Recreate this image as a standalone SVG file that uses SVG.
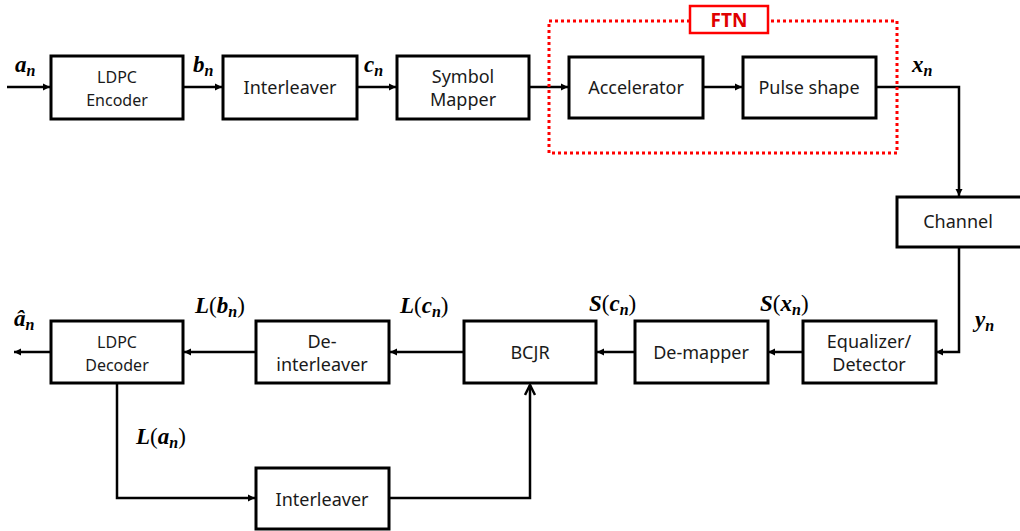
<svg xmlns="http://www.w3.org/2000/svg" width="1020" height="531" viewBox="0 0 1020 531">
<style>
.box{fill:#fff;stroke:#000;stroke-width:3}
.t{font-family:"Noto Sans","Liberation Sans",sans-serif;font-size:18px;fill:#1a1a1a;text-anchor:middle}
.t.s{font-size:16px}
.m{font-family:"Liberation Serif",serif;font-weight:bold;font-style:italic;font-size:23px;fill:#000}
.sub{font-size:16px}
.p{font-weight:normal;font-style:normal}
.ln{fill:none;stroke:#000;stroke-width:2.5}
</style>
<defs>
<marker id="ah" markerWidth="8" markerHeight="8" refX="7" refY="4" orient="auto" markerUnits="userSpaceOnUse">
<path d="M0,0.5 L7,4 L0,7.5 Z" fill="#000"/>
</marker>
<marker id="open" markerWidth="14" markerHeight="12" refX="12" refY="6" orient="auto" markerUnits="userSpaceOnUse">
<path d="M2,1 L12,6 L2,11" fill="none" stroke="#000" stroke-width="2.5"/>
</marker>
</defs>
<rect width="1020" height="531" fill="#fff"/>

<g id="connectors">
<line class="ln" x1="7" y1="87" x2="50" y2="87" marker-end="url(#ah)"/>
<line class="ln" x1="183" y1="87" x2="222" y2="87" marker-end="url(#ah)"/>
<line class="ln" x1="357" y1="87" x2="396" y2="87" marker-end="url(#ah)"/>
<line class="ln" x1="529" y1="87" x2="568" y2="87" marker-end="url(#ah)"/>
<line class="ln" x1="703" y1="87" x2="742" y2="87" marker-end="url(#ah)"/>
<polyline class="ln" points="876,87 959,87 959,196" marker-end="url(#ah)"/>
<polyline class="ln" points="959,247 959,352 936,352" marker-end="url(#ah)"/>
<line class="ln" x1="803" y1="352" x2="768" y2="352" marker-end="url(#ah)"/>
<line class="ln" x1="635" y1="352" x2="597" y2="352" marker-end="url(#ah)"/>
<line class="ln" x1="463" y1="352" x2="390" y2="352" marker-end="url(#ah)"/>
<line class="ln" x1="256" y1="352" x2="184" y2="352" marker-end="url(#ah)"/>
<line class="ln" x1="51" y1="352" x2="14" y2="352" marker-end="url(#ah)"/>
<polyline class="ln" points="117,383 117,498 255,498" marker-end="url(#ah)"/>
<polyline class="ln" points="389,498 530,498 530,385" marker-end="url(#open)"/>
</g>

<g id="ftn">
<rect x="549" y="21" width="348" height="132" fill="none" stroke="#ff0000" stroke-width="3" stroke-dasharray="3 3"/>
<rect x="690" y="6" width="78" height="27" fill="#fff" stroke="#ff0000" stroke-width="2.5"/>
<text x="729" y="27" font-family="Noto Sans,Liberation Sans,sans-serif" font-weight="bold" font-size="19" fill="#e00000" text-anchor="middle">FTN</text>
</g>

<g id="ldpc-encoder"><rect class="box" x="51" y="56" width="132" height="63"/><text class="t s" x="117" y="83">LDPC</text><text class="t s" x="117" y="106">Encoder</text></g>
<g id="interleaver1"><rect class="box" x="223" y="56" width="134" height="63"/><text class="t" x="290" y="94">Interleaver</text></g>
<g id="symbol-mapper"><rect class="box" x="397" y="56" width="132" height="63"/><text class="t" x="463" y="83">Symbol</text><text class="t" x="463" y="106">Mapper</text></g>
<g id="accelerator"><rect class="box" x="569" y="57" width="134" height="61"/><text class="t" x="636" y="94">Accelerator</text></g>
<g id="pulse-shape"><rect class="box" x="743" y="57" width="133" height="61"/><text class="t" x="809" y="94">Pulse shape</text></g>
<g id="channel"><rect class="box" x="897" y="197" width="125" height="50"/><text class="t" x="958" y="228">Channel</text></g>
<g id="equalizer"><rect class="box" x="803" y="321" width="133" height="62"/><text class="t" x="869" y="348">Equalizer/</text><text class="t" x="869" y="371">Detector</text></g>
<g id="demapper"><rect class="box" x="635" y="321" width="133" height="62"/><text class="t" x="701" y="359">De-mapper</text></g>
<g id="bcjr"><rect class="box" x="464" y="321" width="132" height="62"/><text class="t" x="530" y="359">BCJR</text></g>
<g id="deinterleaver"><rect class="box" x="256" y="321" width="133" height="62"/><text class="t" x="322" y="348">De-</text><text class="t" x="322" y="371">interleaver</text></g>
<g id="ldpc-decoder"><rect class="box" x="51" y="321" width="132" height="62"/><text class="t s" x="117" y="348">LDPC</text><text class="t s" x="117" y="371">Decoder</text></g>
<g id="interleaver2"><rect class="box" x="256" y="468" width="133" height="61"/><text class="t" x="322" y="506">Interleaver</text></g>

<g id="labels">
<text class="m" x="15" y="72">a<tspan class="sub" dy="4">n</tspan></text>
<text class="m" x="193" y="72">b<tspan class="sub" dy="4">n</tspan></text>
<text class="m" x="364" y="72">c<tspan class="sub" dy="4">n</tspan></text>
<text class="m" x="912" y="72">x<tspan class="sub" dy="4">n</tspan></text>
<text class="m" x="975" y="327">y<tspan class="sub" dy="4">n</tspan></text>
<text class="m" x="14" y="326">â<tspan class="sub" dy="4">n</tspan></text>
<text class="m" x="195" y="313">L<tspan class="p">(</tspan>b<tspan class="sub" dy="4">n</tspan><tspan class="p" dy="-4">)</tspan></text>
<text class="m" x="400" y="313">L<tspan class="p">(</tspan>c<tspan class="sub" dy="4">n</tspan><tspan class="p" dy="-4">)</tspan></text>
<text class="m" x="589" y="311">S<tspan class="p">(</tspan>c<tspan class="sub" dy="4">n</tspan><tspan class="p" dy="-4">)</tspan></text>
<text class="m" x="760" y="311">S<tspan class="p">(</tspan>x<tspan class="sub" dy="4">n</tspan><tspan class="p" dy="-4">)</tspan></text>
<text class="m" x="136" y="444">L<tspan class="p">(</tspan>a<tspan class="sub" dy="4">n</tspan><tspan class="p" dy="-4">)</tspan></text>
</g>
</svg>
